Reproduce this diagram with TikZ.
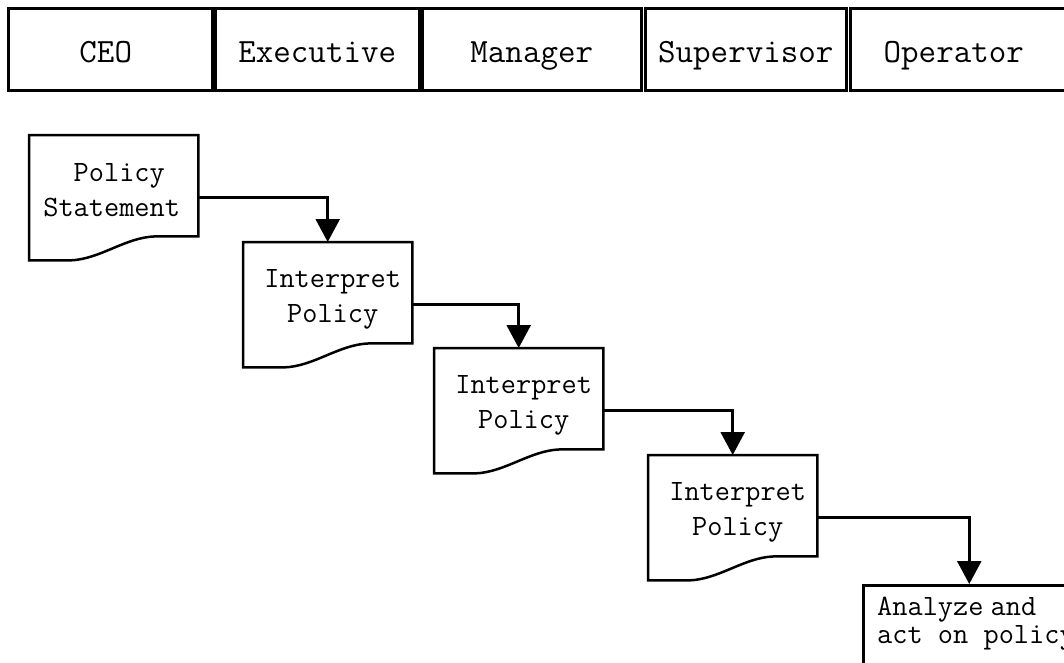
\documentclass[tikz,border=0pt]{standalone}
\usepackage{fontspec}
\usetikzlibrary{arrows.meta,calc}

\begin{document}
\begin{tikzpicture}[x=1pt,y=-1pt,
  lane/.style={draw, line width=2.5pt, anchor=north west, minimum height=82pt,
    inner sep=0pt, font=\ttfamily\fontsize{34}{38}\selectfont,
    text height=26pt, text depth=0pt},
  doc/.style={anchor=north west, minimum width=169pt, minimum height=125pt,
    inner sep=0pt},
  doctext/.style={font=\ttfamily\fontsize{29.5}{35}\selectfont, align=center,
    inner sep=0pt},
  outline/.style={line width=2.5pt, line join=miter},
  flow/.style={line width=2.5pt, -{Triangle[width=24pt,length=23pt]}},
]
\useasboundingbox (0,0) rectangle (1064,662);
\clip (0,0) rectangle (1064,662);

% role lanes
\node[lane, minimum width=204pt] (ceo)  at (7,7)   {\hspace*{-9pt}CEO};
\node[lane, minimum width=204pt] (exec) at (214,7) {Executive};
\node[lane, minimum width=219pt] (mgr)  at (421,7) {Manager};
\node[lane, minimum width=201pt] (sup)  at (644,7) {Supervisor};
\node[lane, minimum width=220pt] (op)   at (849,7) {Operator\hspace*{13pt}};

% documents
\node[doc, label={[doctext, xshift=-2pt, yshift=8pt]center:{\hphantom{x}Policy\\Statement}}] (d1) at (29,135) {};
\node[doc, label={[doctext, xshift=5pt, yshift=5pt]center:{Interpret\\Policy}}] (d2) at (243,242) {};
\node[doc, label={[doctext, xshift=5pt, yshift=5pt]center:{Interpret\\Policy}}] (d3) at (434,348) {};
\node[doc, label={[doctext, xshift=5pt, yshift=5pt]center:{Interpret\\Policy}}] (d4) at (648,455) {};

\foreach \n in {d1,d2,d3,d4}
  \draw[outline] (\n.north west) -- (\n.north east)
    -- ($(\n.south east)+(0,-24)$)
    -- ($(\n.south west)+(126,-24)$)
    .. controls ($(\n.south west)+(96,-23)$) and ($(\n.south west)+(71,-1)$)
    .. ($(\n.south west)+(41,0)$)
    -- (\n.south west) -- cycle;

% final action box
\node[draw, line width=2.5pt, anchor=north west, minimum width=212pt,
  minimum height=100pt, inner sep=0pt] (act) at (862,584) {};
\node[font=\ttfamily\fontsize{29.5}{28}\selectfont, align=left, anchor=north west,
  inner sep=0pt] (acttext) at (877,597) {Analyze\kern-8pt\ and\\act on policy};

% flow connectors
\draw[flow] (d1.east) -| (d2.north);
\draw[flow] (d2.east) -| (d3.north);
\draw[flow] (d3.east) -| (d4.north);
\draw[flow] (d4.east) -| (act.north);
\end{tikzpicture}
\end{document}
